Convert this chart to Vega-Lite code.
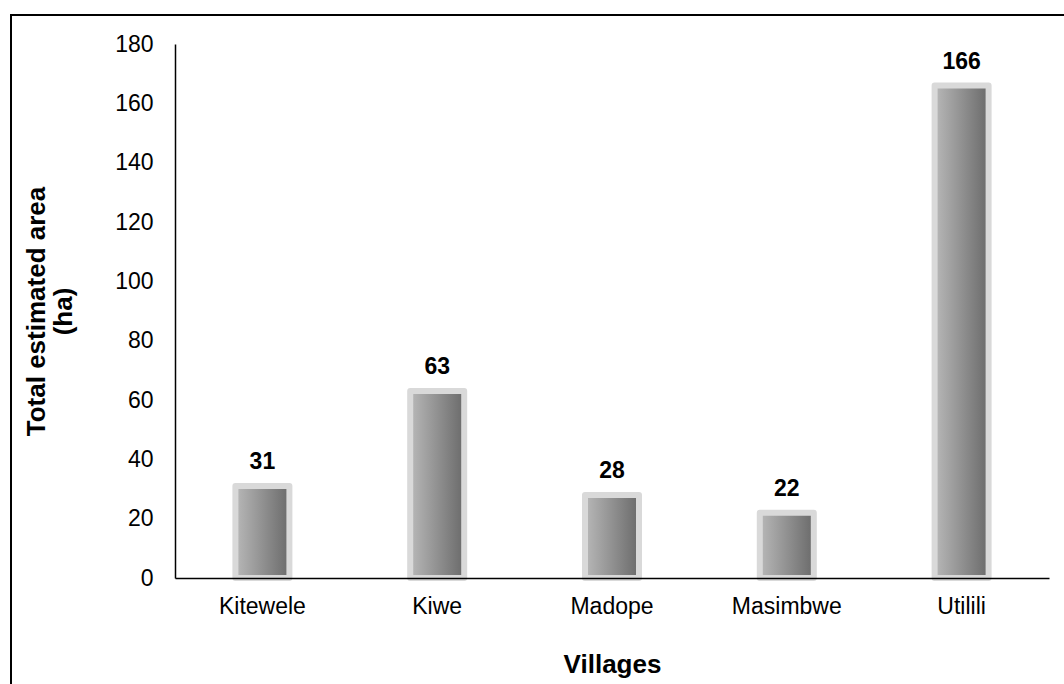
{
  "$schema": "https://vega.github.io/schema/vega-lite/v6.json",
  "width": 1063,
  "height": 679,
  "autosize": {"type": "none"},
  "padding": {"left": 11, "top": 15, "right": 0, "bottom": 0},
  "background": "white",
  "config": {
    "view": {"stroke": "#000000", "strokeWidth": 2},
    "font": "Liberation Sans"
  },
  "data": {
    "values": [
      {"village": "Kitewele", "area": 31},
      {"village": "Kiwe", "area": 63},
      {"village": "Madope", "area": 28},
      {"village": "Masimbwe", "area": 22},
      {"village": "Utilili", "area": 166}
    ]
  },
  "encoding": {
    "x": {
      "field": "village",
      "type": "nominal",
      "sort": null,
      "scale": {"range": [164, 1038], "paddingInner": 0.69, "paddingOuter": 0.345},
      "axis": {
        "offset": -116,
        "title": "Villages",
        "titleFont": "Liberation Sans",
        "titleFontSize": 26,
        "titleFontWeight": "bold",
        "titleColor": "#000000",
        "titleY": 94,
        "titleBaseline": "alphabetic",
        "labelAngle": 0,
        "labelFontSize": 23,
        "labelColor": "#000000",
        "labelPadding": 17,
        "ticks": false,
        "domainColor": "#000000",
        "domainWidth": 1.5,
        "zindex": 1
      }
    },
    "y": {
      "field": "area",
      "type": "quantitative",
      "scale": {"domain": [0, 180], "nice": false, "range": [563, 29]},
      "axis": {
        "offset": -164,
        "title": ["Total estimated area", "(ha)"],
        "titleFont": "Liberation Sans",
        "titleFontSize": 26,
        "titleFontWeight": "bold",
        "titleColor": "#000000",
        "titleLineHeight": 27,
        "titlePadding": 38,
        "values": [0, 20, 40, 60, 80, 100, 120, 140, 160, 180],
        "labelFontSize": 23,
        "labelColor": "#000000",
        "labelPadding": 22,
        "ticks": false,
        "grid": false,
        "domainColor": "#000000",
        "domainWidth": 1.5,
        "zindex": 1
      }
    }
  },
  "layer": [
    {
      "mark": {
        "type": "bar",
        "size": 54,
        "stroke": "#d9d9d9",
        "strokeWidth": 6,
        "strokeJoin": "round",
        "fill": {
          "gradient": "linear",
          "x1": 0, "y1": 0, "x2": 1, "y2": 0,
          "stops": [
            {"offset": 0, "color": "#b8b8b8"},
            {"offset": 1, "color": "#6a6a6a"}
          ]
        }
      }
    },
    {
      "mark": {
        "type": "text",
        "baseline": "alphabetic",
        "dy": -17,
        "fontSize": 23,
        "fontWeight": "bold",
        "color": "#000000"
      },
      "encoding": {
        "text": {"field": "area", "type": "quantitative"}
      }
    }
  ]
}
